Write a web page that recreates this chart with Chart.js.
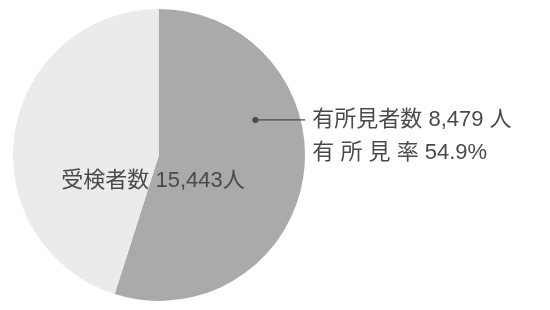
<!DOCTYPE html>
<html>
<head>
<meta charset="utf-8">
<script src="https://cdn.jsdelivr.net/npm/chart.js@4"></script>
<style>
  html, body { margin: 0; padding: 0; background: #fff; }
  #wrap { width: 550px; height: 310px; position: relative; }
</style>
</head>
<body>
<div id="wrap"><canvas id="pie"></canvas></div>
<script>
const categories = ['有所見者数', 'その他'];
const values     = [8479, 6964];
const totalLabel = ['受検者数 15,443人'];
const calloutLines = ['有所見者数 8,479 人', '有 所 見 率 54.9%'];
const colors     = ['#aaaaaa', '#ebebeb'];

const FONT = '"Liberation Sans", "Noto Sans CJK JP", sans-serif';

// draws the callout and total text on top of the arcs
const labelsPlugin = {
    id: 'pieLabels',
    afterDatasetsDraw(chart) {
        const arc = chart.getDatasetMeta(0).data[0];
        if (!arc) return;
        const { x, y, outerRadius: r } = arc;
        const ctx = chart.ctx;
        ctx.save();
        ctx.fillStyle = '#4a4a4a';
        ctx.strokeStyle = '#4a4a4a';
        ctx.font = '22px ' + FONT;
        ctx.textBaseline = 'middle';

        // callout dot and leader line
        const dx = x + r * 0.66, dy = y - r * 0.24;
        ctx.beginPath();
        ctx.arc(dx, dy, 3, 0, Math.PI * 2);
        ctx.fill();
        ctx.lineWidth = 1.3;
        ctx.beginPath();
        ctx.moveTo(dx, dy);
        ctx.lineTo(x + r * 1.0, dy);
        ctx.stroke();

        ctx.textAlign = 'left';
        ctx.fillText(calloutLines[0], x + r * 1.05, dy);
        ctx.fillText(calloutLines[1], x + r * 1.05, dy + 33);

        ctx.textAlign = 'center';
        ctx.fillText(totalLabel[0], x - 6, y + 26);
        ctx.restore();
    }
};

new Chart(document.getElementById('pie'), {
    type: 'pie',
    data: {
        labels: categories,
        datasets: [{
            data: values,
            backgroundColor: colors,
            borderWidth: 0
        }]
    },
    options: {
        responsive: true,
        maintainAspectRatio: false,
        animation: false,
        layout: { padding: { left: 13, right: 245, top: 9, bottom: 9 } },
        plugins: {
            legend: { display: false },
            tooltip: { enabled: false }
        }
    },
    plugins: [labelsPlugin]
});
</script>
</body>
</html>
